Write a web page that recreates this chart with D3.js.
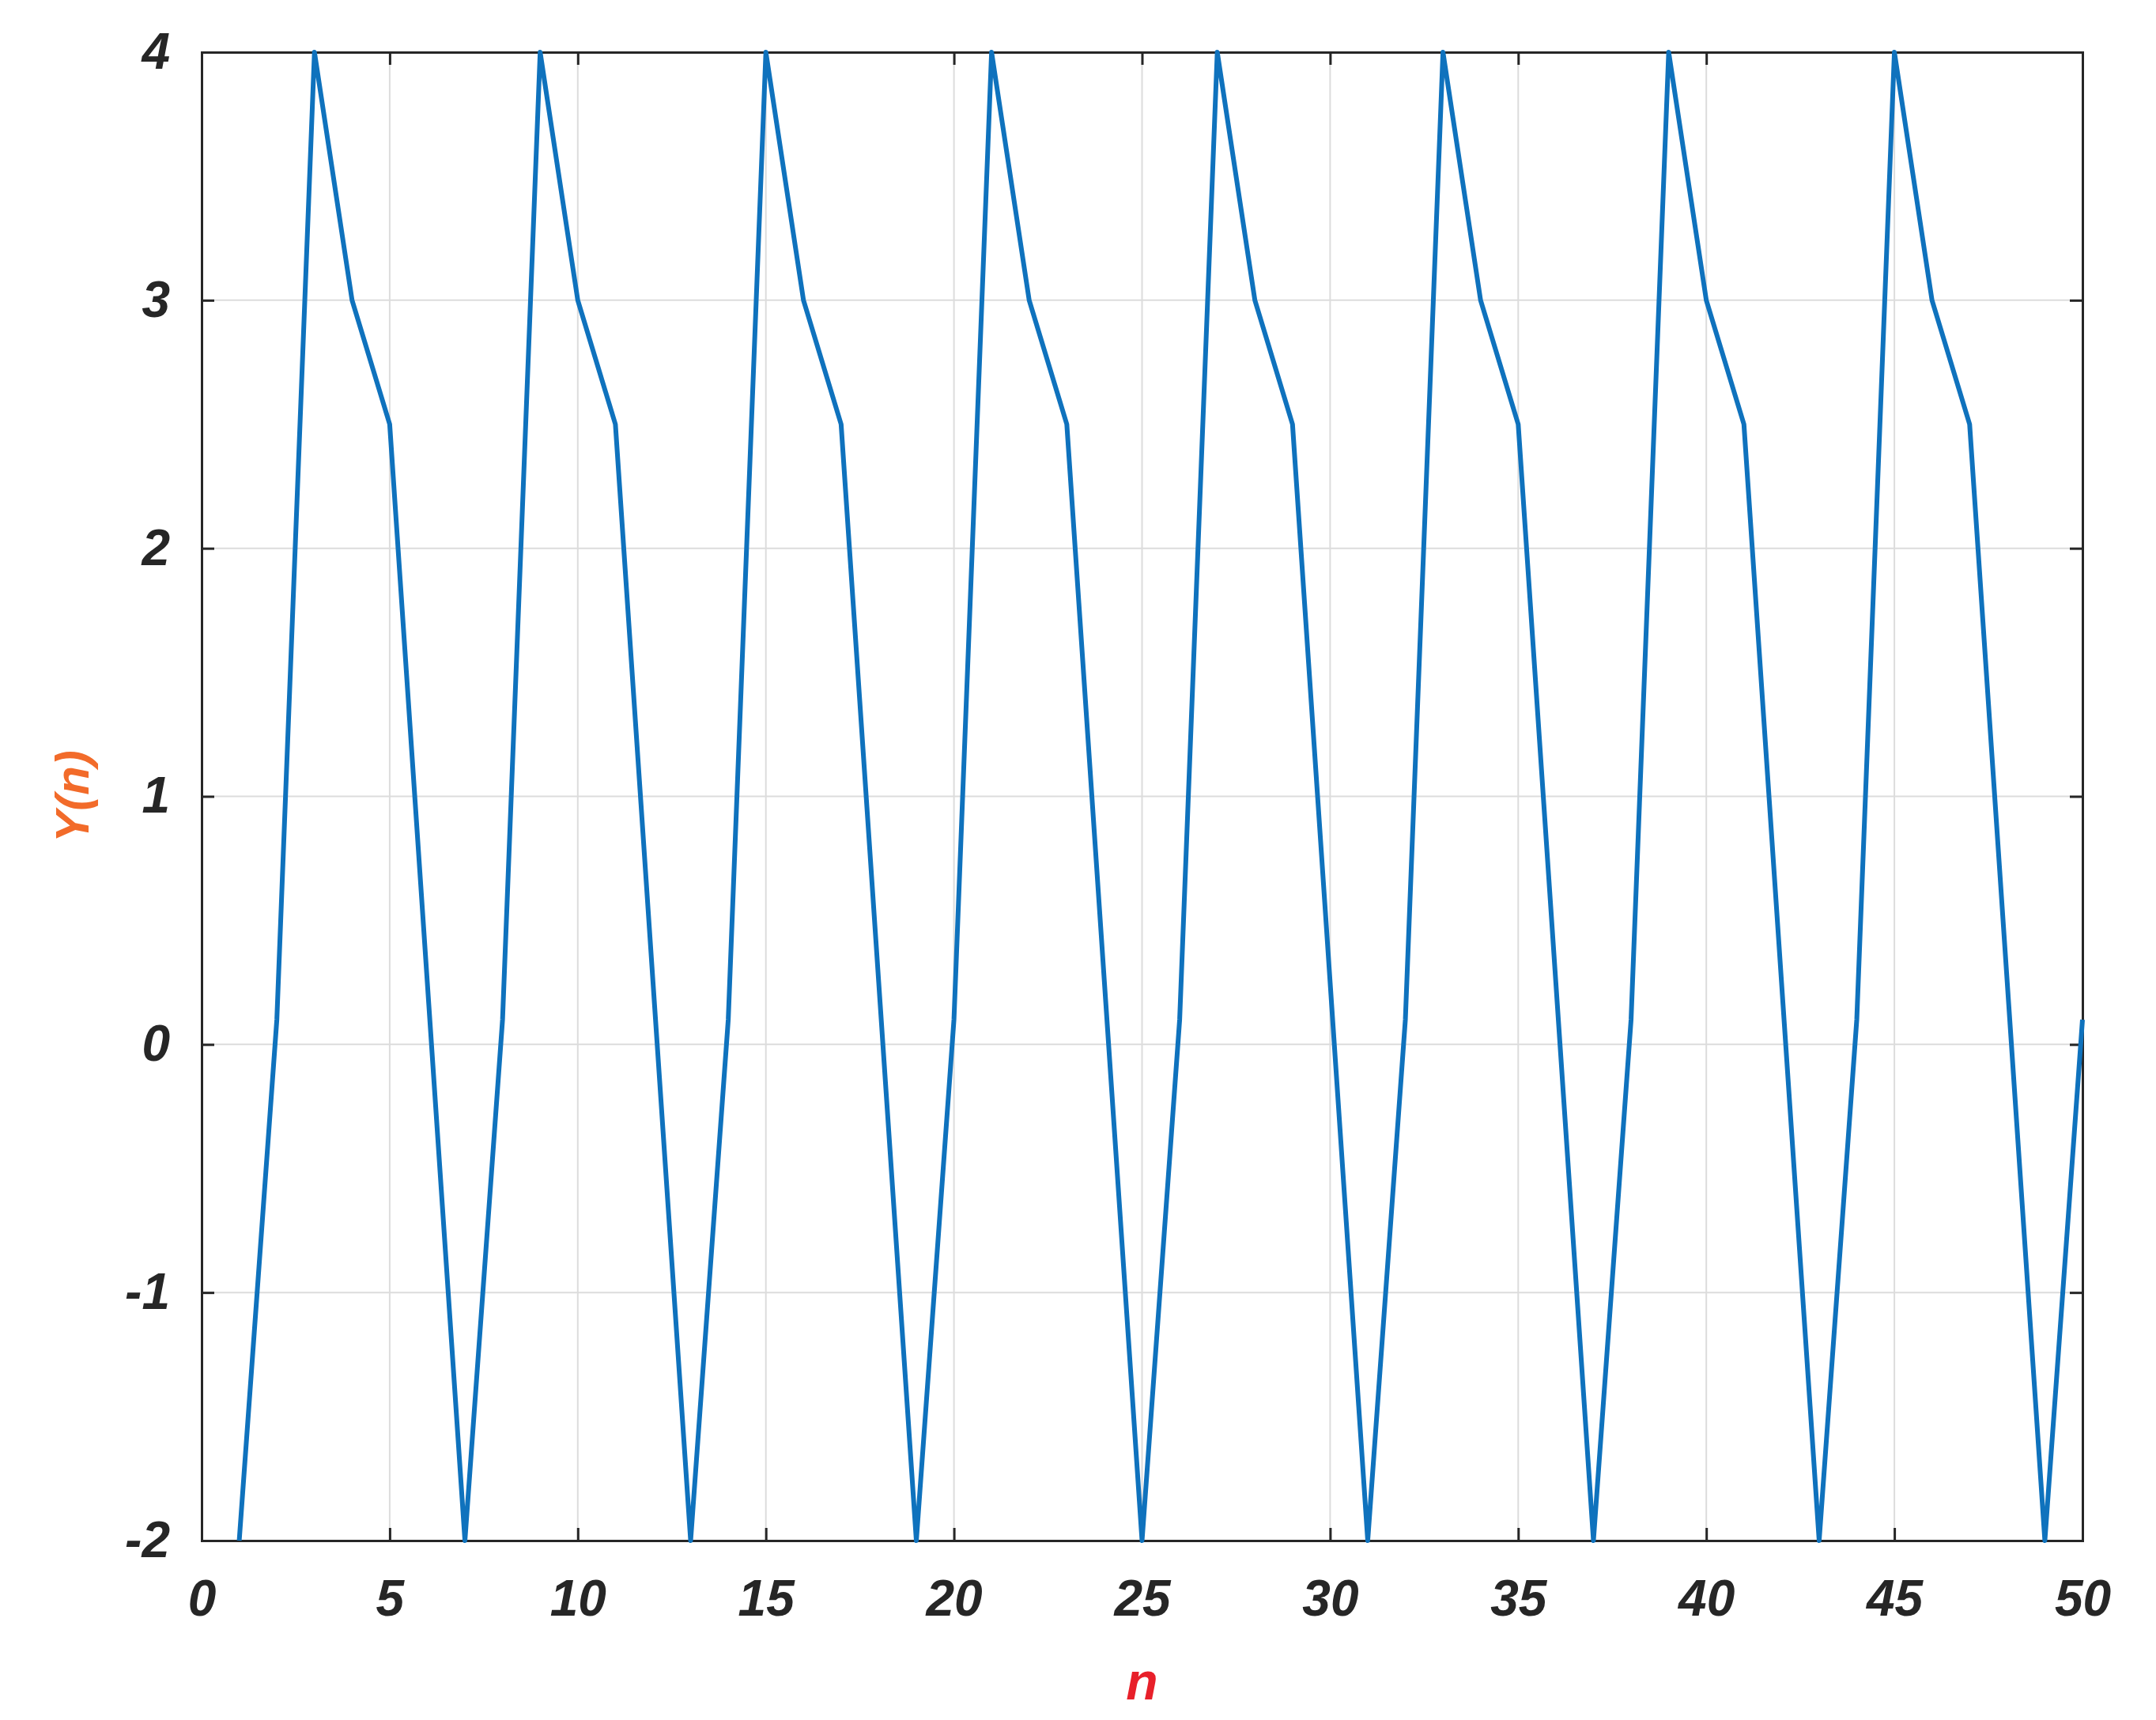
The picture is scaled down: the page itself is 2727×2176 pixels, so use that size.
<!DOCTYPE html>
<html><head><meta charset="utf-8">
<script src="https://cdn.jsdelivr.net/npm/d3@7"></script>
<style>body{margin:0;background:#fff}</style></head>
<body><svg id="c" width="2727" height="2176"></svg>
<script>
const nValues = [1,2,3,4,5,6,7,8,9,10,11,12,13,14,15,16,17,18,19,20,21,22,23,24,25,26,27,28,29,30,31,32,33,34,35,36,37,38,39,40,41,42,43,44,45,46,47,48,49,50];
const yValues = [-2,0.1,4,3,2.5,0.25,-2,0.1,4,3,2.5,0.25,-2,0.1,4,3,2.5,0.25,-2,0.1,4,3,2.5,0.25,-2,0.1,4,3,2.5,0.25,-2,0.1,4,3,2.5,0.25,-2,0.1,4,3,2.5,0.25,-2,0.1,4,3,2.5,0.25,-2,0.1];
const xTicks = [0,5,10,15,20,25,30,35,40,45,50];
const yTicks = [-2,-1,0,1,2,3,4];

const L=255,R=2634,T=66,B=1949;
const svg=d3.select('#c');
const x=d3.scaleLinear().domain([0,50]).range([L,R]);
const y=d3.scaleLinear().domain([-2,4]).range([B,T]);
const g=svg.append('g');
g.selectAll('.gx').data(xTicks).enter().append('line').attr('x1',d=>x(d)).attr('x2',d=>x(d)).attr('y1',T).attr('y2',B).attr('stroke','#dcdcdc').attr('stroke-width',2);
g.selectAll('.gy').data(yTicks).enter().append('line').attr('y1',d=>y(d)).attr('y2',d=>y(d)).attr('x1',L).attr('x2',R).attr('stroke','#dcdcdc').attr('stroke-width',2);
const fontStyle=s=>s.attr('font-family','Liberation Sans, Arial, sans-serif').attr('font-weight','bold').attr('font-style','italic');
const fmt=d=>String(d);
const xa=svg.append('g').attr('transform',`translate(0,${B})`).call(d3.axisBottom(x).tickValues(xTicks).tickFormat(fmt).tickSize(-16).tickPadding(50));
const ya=svg.append('g').attr('transform',`translate(${L},0)`).call(d3.axisLeft(y).tickValues(yTicks).tickFormat(fmt).tickSize(-16).tickPadding(40));
const xt=svg.append('g').attr('transform',`translate(0,${T})`).call(d3.axisTop(x).tickValues(xTicks).tickSize(-16).tickFormat(''));
const yr=svg.append('g').attr('transform',`translate(${R},0)`).call(d3.axisRight(y).tickValues(yTicks).tickSize(-16).tickFormat(''));
[xa,ya,xt,yr].forEach(a=>{a.selectAll('path,line').attr('stroke','#262626').attr('stroke-width',3);a.selectAll('text').attr('fill','#262626').attr('font-size',64).call(fontStyle);});
svg.append('path').datum(nValues.map((n,i)=>[n,yValues[i]]))
 .attr('d',d3.line().x(d=>x(d[0])).y(d=>y(d[1])))
 .attr('fill','none').attr('stroke','#0f72bd').attr('stroke-width',6).attr('stroke-linejoin','round');
svg.append('text').attr('x',(L+R)/2).attr('y',2150).attr('text-anchor','middle').attr('fill','#e8202a').attr('font-size',66).text('n').call(fontStyle);
svg.append('text').attr('transform',`translate(112,${(T+B)/2}) rotate(-90)`).attr('text-anchor','middle').attr('fill','#f26b2a').attr('font-size',60).text('Y(n)').call(fontStyle);
</script></body></html>
